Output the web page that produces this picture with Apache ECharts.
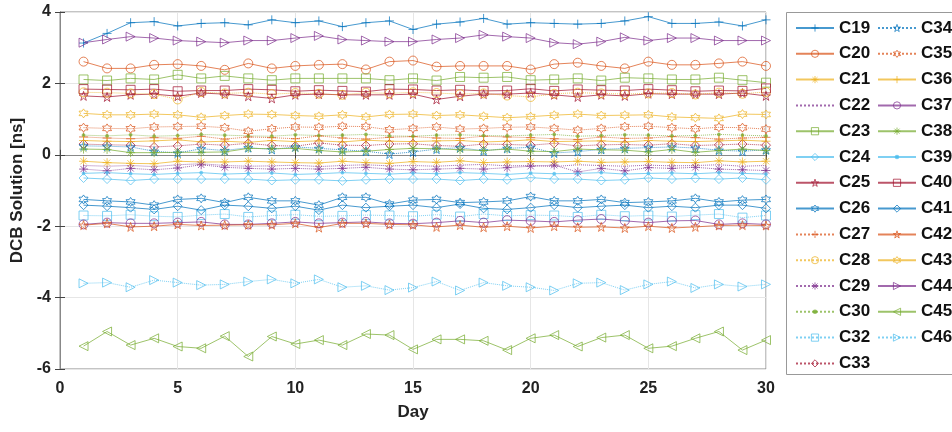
<!DOCTYPE html>
<html>
<head>
<meta charset="utf-8">
<script src="https://cdn.jsdelivr.net/npm/echarts@6/dist/echarts.min.js"></script>
<style>
  html, body { margin: 0; padding: 0; background: #fff; }
  #chart { width: 952px; height: 432px; }
</style>
</head>
<body>
<div id="chart"></div>
<script>
// Daily DCB estimates per satellite (ns), days 1..30
const days = [1,2,3,4,5,6,7,8,9,10,11,12,13,14,15,16,17,18,19,20,21,22,23,24,25,26,27,28,29,30];

const C19 = [3.13,3.40,3.70,3.73,3.61,3.68,3.70,3.64,3.78,3.70,3.75,3.59,3.70,3.75,3.51,3.66,3.72,3.82,3.66,3.70,3.68,3.66,3.68,3.75,3.87,3.68,3.68,3.72,3.61,3.78];
const C20 = [2.61,2.42,2.42,2.52,2.54,2.49,2.38,2.56,2.42,2.49,2.52,2.54,2.39,2.61,2.64,2.47,2.49,2.49,2.49,2.39,2.54,2.58,2.49,2.42,2.61,2.52,2.52,2.56,2.61,2.49];
const C21 = [-0.18,-0.22,-0.24,-0.25,-0.18,-0.20,-0.20,-0.18,-0.20,-0.22,-0.23,-0.18,-0.22,-0.24,-0.19,-0.21,-0.17,-0.22,-0.20,-0.19,-0.20,-0.18,-0.21,-0.20,-0.19,-0.21,-0.22,-0.17,-0.20,-0.18];
const C22 = [-0.30,-0.32,-0.30,-0.33,-0.28,-0.25,-0.30,-0.32,-0.31,-0.29,-0.33,-0.30,-0.28,-0.31,-0.30,-0.32,-0.29,-0.27,-0.31,-0.30,-0.33,-0.28,-0.30,-0.32,-0.29,-0.31,-0.30,-0.28,-0.32,-0.30];
const C23 = [2.11,2.08,2.14,2.11,2.24,2.14,2.21,2.14,2.09,2.14,2.14,2.14,2.14,2.09,2.14,2.08,2.18,2.16,2.18,2.09,2.11,2.14,2.08,2.16,2.14,2.11,2.11,2.16,2.09,2.02];
const C24 = [-0.65,-0.68,-0.72,-0.68,-0.68,-0.68,-0.68,-0.68,-0.72,-0.70,-0.70,-0.73,-0.70,-0.68,-0.68,-0.68,-0.72,-0.68,-0.70,-0.64,-0.68,-0.68,-0.72,-0.70,-0.65,-0.68,-0.66,-0.68,-0.65,-0.70];
const C25 = [1.65,1.62,1.68,1.70,1.64,1.73,1.70,1.64,1.58,1.68,1.70,1.68,1.68,1.68,1.70,1.55,1.64,1.70,1.70,1.73,1.68,1.62,1.68,1.65,1.71,1.70,1.70,1.70,1.73,1.65];
const C26 = [-1.25,-1.29,-1.32,-1.41,-1.25,-1.22,-1.34,-1.19,-1.29,-1.29,-1.41,-1.19,-1.19,-1.38,-1.27,-1.25,-1.34,-1.32,-1.29,-1.17,-1.29,-1.29,-1.25,-1.34,-1.32,-1.29,-1.22,-1.32,-1.27,-1.25];
const C27 = [0.50,0.47,0.45,0.48,0.46,0.52,0.44,0.50,0.48,0.45,0.53,0.47,0.44,0.49,0.51,0.47,0.46,0.52,0.50,0.48,0.45,0.43,0.50,0.46,0.47,0.51,0.48,0.44,0.47,0.49];
const C28 = [1.75,1.74,1.72,1.70,1.55,1.76,1.72,1.74,1.70,1.73,1.71,1.68,1.74,1.72,1.75,1.73,1.70,1.72,1.66,1.62,1.71,1.74,1.72,1.70,1.72,1.73,1.69,1.74,1.71,1.76];
const C29 = [-0.40,-0.45,-0.38,-0.42,-0.37,-0.28,-0.35,-0.38,-0.40,-0.38,-0.40,-0.38,-0.35,-0.40,-0.42,-0.40,-0.38,-0.40,-0.36,-0.32,-0.29,-0.48,-0.38,-0.45,-0.36,-0.38,-0.35,-0.40,-0.42,-0.44];
const C30 = [0.55,0.53,0.56,0.52,0.54,0.57,0.55,0.53,0.52,0.56,0.54,0.55,0.57,0.53,0.52,0.55,0.56,0.54,0.53,0.55,0.57,0.52,0.54,0.56,0.55,0.53,0.54,0.57,0.55,0.53];
const C32 = [-1.70,-1.71,-1.68,-1.72,-1.74,-1.69,-1.66,-1.74,-1.70,-1.68,-1.72,-1.71,-1.69,-1.70,-1.72,-1.68,-1.73,-1.66,-1.71,-1.69,-1.70,-1.74,-1.68,-1.72,-1.70,-1.73,-1.69,-1.66,-1.76,-1.70];
const C33 = [0.30,0.28,0.27,0.22,0.25,0.30,0.27,0.32,0.26,0.24,0.33,0.27,0.26,0.30,0.31,0.26,0.24,0.30,0.29,0.27,0.32,0.25,0.28,0.29,0.27,0.31,0.26,0.28,0.30,0.27];
const C34 = [0.25,0.24,0.22,0.10,0.05,0.17,0.12,0.20,0.15,0.22,0.18,0.14,0.10,0.02,0.08,0.16,0.20,0.11,0.18,0.21,0.05,0.09,0.15,0.18,0.20,0.22,0.19,0.13,0.10,0.14];
const C35 = [0.76,0.74,0.73,0.78,0.79,0.80,0.76,0.66,0.73,0.78,0.77,0.80,0.79,0.70,0.74,0.78,0.72,0.74,0.77,0.78,0.74,0.69,0.74,0.79,0.80,0.76,0.73,0.77,0.76,0.72];
const C36 = [0.40,0.38,0.37,0.39,0.42,0.36,0.38,0.35,0.40,0.37,0.39,0.36,0.41,0.38,0.37,0.39,0.40,0.36,0.38,0.42,0.37,0.38,0.39,0.36,0.40,0.38,0.37,0.39,0.41,0.38];
const C37 = [-1.95,-1.90,-1.92,-1.92,-1.90,-1.88,-1.95,-1.95,-1.92,-1.88,-1.92,-1.90,-1.88,-1.92,-1.93,-1.90,-1.85,-1.90,-1.83,-1.85,-1.88,-1.83,-1.80,-1.85,-1.90,-1.85,-1.84,-1.95,-1.92,-1.95];
const C38 = [0.16,0.15,0.06,0.06,0.07,0.07,0.08,0.18,0.17,0.18,0.12,0.08,0.10,0.15,0.18,0.17,0.14,0.12,0.16,0.10,0.09,0.16,0.14,0.13,0.08,0.15,0.07,0.12,0.16,0.12];
const C39 = [-0.52,-0.50,-0.53,-0.55,-0.52,-0.50,-0.54,-0.52,-0.51,-0.55,-0.53,-0.50,-0.52,-0.54,-0.51,-0.53,-0.50,-0.52,-0.55,-0.51,-0.53,-0.52,-0.50,-0.54,-0.52,-0.51,-0.53,-0.50,-0.52,-0.54];
const C40 = [1.84,1.83,1.82,1.84,1.78,1.80,1.80,1.84,1.82,1.78,1.81,1.79,1.77,1.84,1.83,1.80,1.82,1.79,1.80,1.85,1.79,1.83,1.81,1.80,1.84,1.81,1.78,1.80,1.79,1.86];
const C41 = [-1.41,-1.44,-1.48,-1.53,-1.44,-1.55,-1.41,-1.44,-1.50,-1.44,-1.55,-1.41,-1.48,-1.44,-1.41,-1.48,-1.38,-1.50,-1.53,-1.48,-1.41,-1.48,-1.44,-1.41,-1.48,-1.44,-1.48,-1.41,-1.41,-1.50];
const C42 = [-1.97,-1.92,-2.02,-2.00,-1.95,-1.98,-1.97,-1.96,-1.96,-1.92,-2.04,-1.92,-1.92,-1.95,-1.96,-2.02,-1.97,-2.03,-2.00,-2.05,-2.00,-2.03,-2.02,-2.05,-2.00,-2.05,-2.02,-1.98,-1.97,-1.98];
const C43 = [1.16,1.12,1.12,1.14,1.12,1.05,1.10,1.14,1.13,1.10,1.08,1.12,1.06,1.13,1.14,1.10,1.12,1.08,1.04,1.07,1.11,1.14,1.10,1.11,1.12,1.06,1.04,1.02,1.14,1.13];
const C44 = [3.14,3.23,3.31,3.27,3.20,3.17,3.14,3.20,3.20,3.27,3.33,3.23,3.20,3.17,3.17,3.23,3.27,3.36,3.31,3.27,3.14,3.10,3.17,3.29,3.20,3.27,3.27,3.20,3.20,3.20];
const C45 = [-5.36,-4.95,-5.33,-5.14,-5.37,-5.42,-5.08,-5.65,-5.09,-5.30,-5.19,-5.33,-5.02,-5.05,-5.45,-5.17,-5.17,-5.21,-5.47,-5.14,-5.05,-5.37,-5.12,-5.05,-5.42,-5.36,-5.14,-4.95,-5.47,-5.19];
const C46 = [-3.60,-3.58,-3.71,-3.51,-3.58,-3.65,-3.63,-3.55,-3.49,-3.60,-3.49,-3.71,-3.67,-3.79,-3.72,-3.55,-3.80,-3.58,-3.67,-3.71,-3.80,-3.60,-3.58,-3.79,-3.63,-3.55,-3.73,-3.63,-3.69,-3.63];

const xTicks = [0, 5, 10, 15, 20, 25, 30];
const yTicks = [-6, -4, -2, 0, 2, 4];

// Line colour cycle
const palette = ['#0072BD', '#D95319', '#EDB120', '#7E2F8E', '#77AC30', '#4DBEEE', '#A2142F'];

// Marker shapes (the point marker keeps a 10x10 box so it stays tiny when scaled)
const MARK = {
  plus: 'path://M5 0L5 10M0 5L10 5',
  ast: 'path://M5 0L5 10M0 5L10 5M1.5 1.5L8.5 8.5M1.5 8.5L8.5 1.5',
  circ: 'circle',
  sq: 'rect',
  dia: 'diamond',
  dot: 'path://M0 0L0.01 0M10 10L9.99 10M3.2 5A1.8 1.8 0 1 1 6.8 5A1.8 1.8 0 1 1 3.2 5Z',
  star5: 'path://M50 0L61.23 34.55L97.55 34.55L68.17 55.9L79.39 90.45L50 69.1L20.61 90.45L31.83 55.9L2.45 34.55L38.77 34.55Z',
  star6: 'path://M50 0L64.43 25L93.3 25L78.87 50L93.3 75L64.43 75L50 100L35.57 75L6.7 75L21.13 50L6.7 25L35.57 25Z',
  right: 'path://M0 0L10 5L0 10Z',
  left: 'path://M10 0L0 5L10 10Z',
  none: 'none'
};

// name, values, colour index, marker, line type
const seriesTable = [
  ['C19', C19, 0, 'plus', 'solid'],
  ['C20', C20, 1, 'circ', 'solid'],
  ['C21', C21, 2, 'ast', 'solid'],
  ['C22', C22, 3, 'none', 'dotted'],
  ['C23', C23, 4, 'sq', 'solid'],
  ['C24', C24, 5, 'dia', 'solid'],
  ['C25', C25, 6, 'star5', 'solid'],
  ['C26', C26, 0, 'star6', 'solid'],
  ['C27', C27, 1, 'plus', 'dotted'],
  ['C28', C28, 2, 'circ', 'dotted'],
  ['C29', C29, 3, 'ast', 'dotted'],
  ['C30', C30, 4, 'dot', 'dotted'],
  ['C32', C32, 5, 'sq', 'dotted'],
  ['C33', C33, 6, 'dia', 'dotted'],
  ['C34', C34, 0, 'star5', 'dotted'],
  ['C35', C35, 1, 'star6', 'dotted'],
  ['C36', C36, 2, 'plus', 'solid'],
  ['C37', C37, 3, 'circ', 'solid'],
  ['C38', C38, 4, 'ast', 'solid'],
  ['C39', C39, 5, 'dot', 'solid'],
  ['C40', C40, 6, 'sq', 'solid'],
  ['C41', C41, 0, 'dia', 'solid'],
  ['C42', C42, 1, 'star5', 'solid'],
  ['C43', C43, 2, 'star6', 'solid'],
  ['C44', C44, 3, 'right', 'solid'],
  ['C45', C45, 4, 'left', 'solid'],
  ['C46', C46, 5, 'right', 'dotted']
];

const FONT = 'Liberation Sans, Arial, sans-serif';
const HOLLOW = 'rgba(255,255,255,0)';

const series = seriesTable.map(([name, vals, ci, mk, lt]) => {
  const c = palette[ci];
  const isDot = mk === 'dot';
  return {
    name: name,
    type: 'line',
    data: days.map((d, i) => [d, vals[i]]),
    symbol: MARK[mk],
    symbolSize: 9,
    showSymbol: mk !== 'none',
    color: c,
    lineStyle: { color: c, width: 1, type: lt, opacity: 0.72 },
    itemStyle: isDot
      ? { color: c, borderColor: c, borderWidth: 0.5, opacity: 0.75 }
      : { color: HOLLOW, borderColor: c, borderWidth: 1, opacity: 0.72 },
    emphasis: { disabled: true },
    animation: false
  };
});

// Legend entries: hollow markers, markerless series show only their line
const legendItems = rows => rows.map(r => {
  const c = palette[r[2]];
  if (r[3] === 'none') return { name: r[0], itemStyle: { opacity: 0 } };
  if (r[3] === 'dot') return { name: r[0], itemStyle: { color: c, borderColor: c } };
  return { name: r[0], itemStyle: { color: HOLLOW, borderColor: c, borderWidth: 1 } };
});

const legendBase = {
  orient: 'vertical',
  top: 14,
  itemWidth: 38,
  itemHeight: 9,
  itemGap: 7.8,
  textStyle: { fontFamily: FONT, fontWeight: 'bold', fontSize: 17, color: '#111', lineHeight: 18 },
  selectedMode: false
};

const chart = echarts.init(document.getElementById('chart'), null, { renderer: 'canvas' });
chart.setOption({
  backgroundColor: '#fff',
  animation: false,
  grid: { left: 60, right: 186, top: 12, bottom: 63, show: true, borderColor: '#888', borderWidth: 1 },
  legend: [
    Object.assign({}, legendBase, { left: 790, data: legendItems(seriesTable.slice(0, 14)) }),
    Object.assign({}, legendBase, { left: 872, data: legendItems(seriesTable.slice(14)) })
  ],
  graphic: [{
    type: 'rect',
    shape: { x: 786.5, y: 12.5, width: 200, height: 362 },
    style: { fill: 'none', stroke: '#999', lineWidth: 1 },
    z: -1
  }],
  xAxis: [{
    type: 'value', min: xTicks[0], max: xTicks[xTicks.length - 1], interval: 5,
    name: 'Day', nameLocation: 'middle', nameGap: 35,
    nameTextStyle: { fontFamily: FONT, fontWeight: 'bold', fontSize: 17, color: '#222' },
    axisLine: { show: true, lineStyle: { color: '#888' } },
    axisTick: { show: true, inside: true, length: 5, lineStyle: { color: '#444' } },
    axisLabel: { fontFamily: FONT, fontWeight: 'bold', fontSize: 16, color: '#222', margin: 12 },
    splitLine: { show: true, lineStyle: { color: '#e6e6e6', width: 1 } }
  }, {
    type: 'value', position: 'top', min: 0, max: 30, interval: 5,
    axisLine: { show: true, lineStyle: { color: '#888' } },
    axisTick: { show: true, inside: true, length: 5, lineStyle: { color: '#444' } },
    axisLabel: { show: false }, splitLine: { show: false }
  }],
  yAxis: [{
    type: 'value', min: yTicks[0], max: yTicks[yTicks.length - 1], interval: 2,
    name: 'DCB Solution [ns]', nameLocation: 'middle', nameGap: 24,
    nameTextStyle: { fontFamily: FONT, fontWeight: 'bold', fontSize: 17, color: '#222' },
    axisLine: { show: true, lineStyle: { color: '#888' } },
    axisTick: { show: true, inside: true, length: 5, lineStyle: { color: '#444' } },
    axisLabel: { fontFamily: FONT, fontWeight: 'bold', fontSize: 16, color: '#222', margin: 9 },
    splitLine: { show: true, lineStyle: { color: '#e6e6e6', width: 1 } }
  }, {
    type: 'value', position: 'right', min: -6, max: 4, interval: 2,
    axisLine: { show: true, lineStyle: { color: '#888' } },
    axisTick: { show: true, inside: true, length: 5, lineStyle: { color: '#444' } },
    axisLabel: { show: false }, splitLine: { show: false }
  }],
  series: series
});
</script>
</body>
</html>
